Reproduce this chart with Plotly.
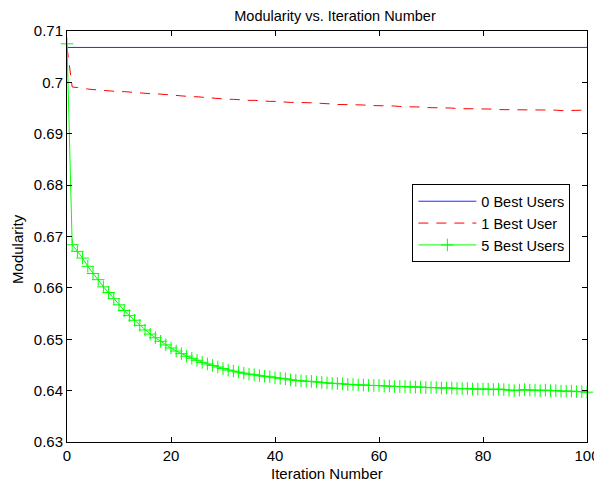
import plotly.graph_objects as go

iterations = list(range(0, 101))

best0 = [0.7068] * 101

best1 = [
    0.7068, 0.6991, 0.6990, 0.6988, 0.6987, 0.6986, 0.6985, 0.6984, 0.6983, 0.6983,
    0.6982, 0.6982, 0.6981, 0.6981, 0.6980, 0.6979, 0.6978, 0.6978, 0.6977, 0.6976,
    0.6976, 0.6975, 0.6974, 0.6973, 0.6972, 0.6972, 0.6971, 0.6970, 0.6969, 0.6968,
    0.6968, 0.6967, 0.6967, 0.6966, 0.6966, 0.6965, 0.6965, 0.6964, 0.6964, 0.6963,
    0.6963, 0.6962, 0.6962, 0.6961, 0.6961, 0.6961, 0.6960, 0.6960, 0.6960, 0.6959,
    0.6959, 0.6958, 0.6957, 0.6957, 0.6957, 0.6956, 0.6956, 0.6956, 0.6955, 0.6955,
    0.6955, 0.6954, 0.6954, 0.6954, 0.6953, 0.6953, 0.6952, 0.6952, 0.6952, 0.6951,
    0.6951, 0.6951, 0.6950, 0.6950, 0.6950, 0.6949, 0.6949, 0.6949, 0.6949, 0.6948,
    0.6948, 0.6948, 0.6948, 0.6947, 0.6947, 0.6947, 0.6947, 0.6947, 0.6947, 0.6947,
    0.6947, 0.6947, 0.6947, 0.6947, 0.6946, 0.6945, 0.6945, 0.6945, 0.6946, 0.6946,
    0.6946,
]

best5 = [
    0.7075, 0.6684, 0.6671, 0.6658, 0.6642, 0.6628, 0.6616, 0.6602, 0.6591, 0.6579,
    0.6567, 0.6556, 0.6546, 0.6537, 0.6527, 0.6518, 0.6510, 0.6503, 0.6496, 0.6489,
    0.6483, 0.6477, 0.6472, 0.6467, 0.6463, 0.6459, 0.6455, 0.6452, 0.6449, 0.6446,
    0.6443, 0.6440, 0.6438, 0.6436, 0.6434, 0.6432, 0.6431, 0.6429, 0.6428, 0.6427,
    0.6425, 0.6424, 0.6423, 0.6421, 0.6420, 0.6419, 0.6418, 0.6418, 0.6417, 0.6416,
    0.6415, 0.6414, 0.6414, 0.6413, 0.6412, 0.6412, 0.6411, 0.6411, 0.6410, 0.6410,
    0.6410, 0.6409, 0.6409, 0.6408, 0.6408, 0.6408, 0.6407, 0.6407, 0.6407, 0.6406,
    0.6406, 0.6406, 0.6405, 0.6405, 0.6405, 0.6404, 0.6404, 0.6404, 0.6403, 0.6403,
    0.6403, 0.6403, 0.6402, 0.6403, 0.6402, 0.6401, 0.6400, 0.6401, 0.6402, 0.6401,
    0.6401, 0.6400, 0.6401, 0.6400, 0.6400, 0.6399, 0.6399, 0.6399, 0.6398, 0.6398,
    0.6397,
]

y_tick_vals = [0.63, 0.64, 0.65, 0.66, 0.67, 0.68, 0.69, 0.70, 0.71]
y_tick_text = ["0.63", "0.64", "0.65", "0.66", "0.67", "0.68", "0.69", "0.7", "0.71"]
x_tick_vals = [0, 20, 40, 60, 80, 100]

FONT = "Liberation Sans, Arial, Helvetica, sans-serif"

fig = go.Figure()
fig.add_trace(go.Scatter(
    x=iterations, y=best0, mode="lines", name="0 Best Users",
    line=dict(color="rgb(40,40,255)", width=1),
))
fig.add_trace(go.Scatter(
    x=iterations, y=best1, mode="lines", name="1 Best User",
    line=dict(color="rgb(255,0,0)", width=1, dash="10px,8px"),
))
fig.add_trace(go.Scatter(
    x=iterations, y=best5, mode="lines+markers", name="5 Best Users",
    line=dict(color="rgb(0,255,0)", width=1),
    marker=dict(symbol="cross-thin", size=9, line=dict(color="rgb(0,255,0)", width=1)),
    cliponaxis=False,
))

axis_common = dict(
    showgrid=False, zeroline=False, showline=True, linecolor="black", linewidth=1,
    mirror="ticks", ticks="inside", ticklen=5, tickcolor="black", tickwidth=1,
    tickfont=dict(family=FONT, size=15, color="black"), automargin=False,
)

# page body has an 8px margin, so the figure is drawn 8px in from the top-left
fig.update_layout(
    width=594, height=481,
    margin=dict(l=59, r=15, t=23, b=47),
    paper_bgcolor="white", plot_bgcolor="white",
    title=dict(text="Modularity vs. Iteration Number", x=0.5505, xanchor="center",
               y=0.994, yanchor="top", pad=dict(t=0, b=0),
               font=dict(family=FONT, size=14.5, color="black")),
    xaxis=dict(range=[0, 100], tickvals=x_tick_vals, **axis_common),
    yaxis=dict(range=[0.63, 0.71], tickvals=y_tick_vals, ticktext=y_tick_text, **axis_common),
    annotations=[
        dict(text="Iteration Number", xref="paper", yref="paper", x=0.5, y=-0.076,
             xanchor="center", yanchor="middle", showarrow=False,
             font=dict(family=FONT, size=15, color="black")),
        dict(text="Modularity", xref="paper", yref="paper", x=-0.094, y=0.47,
             xanchor="center", yanchor="middle", showarrow=False, textangle=-90,
             font=dict(family=FONT, size=15, color="black")),
    ],
    legend=dict(x=0.968, y=0.627, xanchor="right", yanchor="top",
                bgcolor="white", bordercolor="black", borderwidth=1,
                font=dict(family=FONT, size=14.5, color="black"),
                itemwidth=58, tracegroupgap=0),
    showlegend=True,
)

fig.write_html("out.html")
